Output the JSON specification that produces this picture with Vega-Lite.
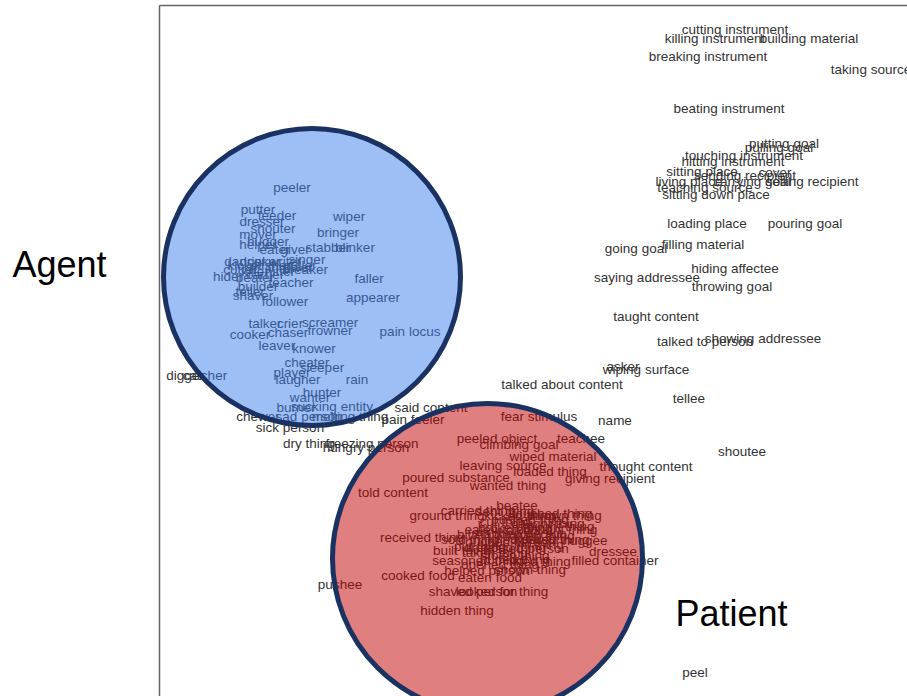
{
  "$schema": "https://vega.github.io/schema/vega-lite/v6.json",
  "width": 748,
  "height": 691,
  "autosize": "none",
  "padding": {"left": 159, "top": 5, "right": 0, "bottom": 0},
  "config": {"view": {"stroke": null}},
  "datasets": {
    "roles": [
      {"t": "cutting instrument", "x": 576, "y": 666},
      {"t": "killing instrument", "x": 556, "y": 657},
      {"t": "building material", "x": 650, "y": 657},
      {"t": "breaking instrument", "x": 549, "y": 639},
      {"t": "taking source", "x": 712, "y": 626},
      {"t": "beating instrument", "x": 570, "y": 587},
      {"t": "putting goal", "x": 625, "y": 552},
      {"t": "pulling goal", "x": 620, "y": 548},
      {"t": "touching instrument", "x": 585, "y": 540},
      {"t": "hitting instrument", "x": 574, "y": 534},
      {"t": "sitting place", "x": 543, "y": 524},
      {"t": "cover", "x": 616, "y": 523},
      {"t": "sending recipient", "x": 586, "y": 520},
      {"t": "living place", "x": 530, "y": 514},
      {"t": "carrying goal", "x": 593, "y": 514},
      {"t": "selling recipient", "x": 653, "y": 514},
      {"t": "teaching source", "x": 546, "y": 508},
      {"t": "sitting down place", "x": 557, "y": 501},
      {"t": "loading place", "x": 548, "y": 472},
      {"t": "pouring goal", "x": 646, "y": 472},
      {"t": "filling material", "x": 544, "y": 451},
      {"t": "going goal", "x": 477, "y": 447},
      {"t": "hiding affectee", "x": 576, "y": 427},
      {"t": "saying addressee", "x": 488, "y": 418},
      {"t": "throwing goal", "x": 573, "y": 409},
      {"t": "taught content", "x": 497, "y": 379},
      {"t": "talked to person", "x": 546, "y": 354},
      {"t": "showing addressee", "x": 604, "y": 357},
      {"t": "asker", "x": 464, "y": 329},
      {"t": "wiping surface", "x": 487, "y": 326},
      {"t": "talked about content", "x": 403, "y": 311},
      {"t": "tellee", "x": 530, "y": 297},
      {"t": "said content", "x": 272, "y": 288},
      {"t": "pain feeler", "x": 254, "y": 276},
      {"t": "fear stimulus", "x": 380, "y": 279},
      {"t": "name", "x": 456, "y": 275},
      {"t": "peeled object", "x": 338, "y": 257},
      {"t": "climbing goal", "x": 360, "y": 251},
      {"t": "teachee", "x": 422, "y": 257},
      {"t": "shoutee", "x": 583, "y": 244},
      {"t": "dry thing", "x": 150, "y": 252},
      {"t": "freezing person", "x": 213, "y": 252},
      {"t": "hungry person", "x": 207, "y": 248},
      {"t": "wiped material", "x": 394, "y": 239},
      {"t": "leaving source", "x": 344, "y": 230},
      {"t": "loaded thing", "x": 391, "y": 224},
      {"t": "thought content", "x": 487, "y": 229},
      {"t": "giving recipient", "x": 451, "y": 217},
      {"t": "poured substance", "x": 297, "y": 218},
      {"t": "wanted thing", "x": 349, "y": 210},
      {"t": "told content", "x": 234, "y": 203},
      {"t": "beatee", "x": 358, "y": 190},
      {"t": "carried thing", "x": 319, "y": 185},
      {"t": "ground thing", "x": 288, "y": 180},
      {"t": "thrown thing", "x": 406, "y": 180},
      {"t": "brought thing", "x": 396, "y": 169},
      {"t": "huggee", "x": 426, "y": 155},
      {"t": "received thing", "x": 263, "y": 158},
      {"t": "built thing", "x": 303, "y": 145},
      {"t": "dressee", "x": 454, "y": 144},
      {"t": "filled container", "x": 456, "y": 135},
      {"t": "seasoned thing", "x": 319, "y": 135},
      {"t": "shown thing", "x": 371, "y": 126},
      {"t": "cooked food", "x": 259, "y": 120},
      {"t": "helped person", "x": 328, "y": 125},
      {"t": "eaten food", "x": 331, "y": 118},
      {"t": "shaved person", "x": 314, "y": 104},
      {"t": "looked for thing", "x": 343, "y": 104},
      {"t": "hidden thing", "x": 298, "y": 85},
      {"t": "pushee", "x": 181, "y": 111},
      {"t": "peel", "x": 536, "y": 23},
      {"t": "kicked thing", "x": 361, "y": 180},
      {"t": "pushed thing", "x": 371, "y": 176},
      {"t": "cut thing", "x": 346, "y": 174},
      {"t": "broken thing", "x": 356, "y": 168},
      {"t": "eaten thing", "x": 339, "y": 166},
      {"t": "stabbed person", "x": 361, "y": 162},
      {"t": "killed person", "x": 366, "y": 156},
      {"t": "hit thing", "x": 381, "y": 151},
      {"t": "dropped thing", "x": 346, "y": 148},
      {"t": "taken thing", "x": 336, "y": 143},
      {"t": "stolen thing", "x": 356, "y": 140},
      {"t": "lifted thing", "x": 381, "y": 134},
      {"t": "opened thing", "x": 341, "y": 131},
      {"t": "put thing", "x": 321, "y": 149},
      {"t": "sent thing", "x": 346, "y": 184},
      {"t": "caught thing", "x": 389, "y": 172},
      {"t": "bought thing", "x": 401, "y": 166},
      {"t": "given thing", "x": 383, "y": 160},
      {"t": "touched thing", "x": 393, "y": 182},
      {"t": "sold thing", "x": 311, "y": 156},
      {"t": "bitten thing", "x": 331, "y": 161},
      {"t": "kissed person", "x": 368, "y": 147},
      {"t": "hugged person", "x": 351, "y": 154},
      {"t": "buried thing", "x": 356, "y": 136},
      {"t": "pulled thing", "x": 396, "y": 156},
      {"t": "peeler", "x": 133, "y": 508},
      {"t": "wiper", "x": 190, "y": 479},
      {"t": "putter", "x": 99, "y": 486},
      {"t": "feeder", "x": 118, "y": 480},
      {"t": "dresser", "x": 103, "y": 474},
      {"t": "shouter", "x": 114, "y": 467},
      {"t": "bringer", "x": 179, "y": 463},
      {"t": "mover", "x": 99, "y": 461},
      {"t": "hugger", "x": 109, "y": 454},
      {"t": "helper", "x": 99, "y": 451},
      {"t": "giver", "x": 136, "y": 446},
      {"t": "stabber", "x": 169, "y": 448},
      {"t": "blinker", "x": 196, "y": 448},
      {"t": "eater", "x": 116, "y": 446},
      {"t": "singer", "x": 148, "y": 436},
      {"t": "drinker", "x": 101, "y": 434},
      {"t": "kicker", "x": 86, "y": 430},
      {"t": "pusher", "x": 111, "y": 430},
      {"t": "thrower", "x": 131, "y": 428},
      {"t": "cutter", "x": 81, "y": 426},
      {"t": "breaker", "x": 146, "y": 426},
      {"t": "killer", "x": 96, "y": 424},
      {"t": "hitter", "x": 121, "y": 424},
      {"t": "puller", "x": 141, "y": 430},
      {"t": "carrier", "x": 106, "y": 421},
      {"t": "dancer", "x": 86, "y": 434},
      {"t": "writer", "x": 126, "y": 434},
      {"t": "hider", "x": 69, "y": 419},
      {"t": "beater", "x": 96, "y": 418},
      {"t": "teacher", "x": 132, "y": 413},
      {"t": "builder", "x": 99, "y": 409},
      {"t": "teller", "x": 91, "y": 404},
      {"t": "shaver", "x": 94, "y": 400},
      {"t": "follower", "x": 126, "y": 394},
      {"t": "faller", "x": 210, "y": 417},
      {"t": "appearer", "x": 214, "y": 398},
      {"t": "talker", "x": 106, "y": 372},
      {"t": "crier", "x": 131, "y": 372},
      {"t": "screamer", "x": 171, "y": 373},
      {"t": "frowner", "x": 171, "y": 365},
      {"t": "cooker", "x": 91, "y": 361},
      {"t": "chaser", "x": 129, "y": 363},
      {"t": "pain locus", "x": 251, "y": 364},
      {"t": "leaver", "x": 118, "y": 350},
      {"t": "knower", "x": 155, "y": 347},
      {"t": "cheater", "x": 148, "y": 333},
      {"t": "sleeper", "x": 163, "y": 328},
      {"t": "player", "x": 133, "y": 323},
      {"t": "laugher", "x": 139, "y": 316},
      {"t": "rain", "x": 198, "y": 316},
      {"t": "digger", "x": 26, "y": 320},
      {"t": "catcher", "x": 46, "y": 320},
      {"t": "hunter", "x": 163, "y": 303},
      {"t": "wanter", "x": 151, "y": 298},
      {"t": "burner", "x": 137, "y": 288},
      {"t": "sucking entity", "x": 173, "y": 289},
      {"t": "sad person", "x": 150, "y": 279},
      {"t": "melting thing", "x": 191, "y": 279},
      {"t": "chewer", "x": 99, "y": 279},
      {"t": "sick person", "x": 131, "y": 268}
    ]
  },
  "encoding": {
    "x": {"field": "x", "type": "quantitative", "scale": {"domain": [0, 748], "nice": false, "zero": false}, "axis": {"orient": "top", "labels": false, "ticks": false, "grid": false, "title": null, "domainColor": "#666666", "domainWidth": 1.5}},
    "y": {"field": "y", "type": "quantitative", "scale": {"domain": [0, 691], "nice": false, "zero": false}, "axis": {"labels": false, "ticks": false, "grid": false, "title": null, "domainColor": "#666666", "domainWidth": 1.5}}
  },
  "layer": [
    {
      "data": {"name": "roles"},
      "mark": {"type": "text", "font": "Liberation Sans", "fontSize": 13.5, "color": "#333333", "align": "center", "baseline": "middle"},
      "encoding": {"text": {"field": "t", "type": "nominal"}}
    },
    {
      "data": {"values": [{"x": 153, "y": 419}]},
      "mark": {"type": "point", "shape": "circle", "size": 88209, "filled": true, "fill": "#3d7ded", "fillOpacity": 0.5, "stroke": "#1a3262", "strokeWidth": 5, "strokeOpacity": 1, "opacity": 1}
    },
    {
      "data": {"values": [{"x": 328.5, "y": 137.5}]},
      "mark": {"type": "point", "shape": "circle", "size": 96100, "filled": true, "fill": "#c00000", "fillOpacity": 0.5, "stroke": "#1a3262", "strokeWidth": 5, "strokeOpacity": 1, "opacity": 1}
    },
    {
      "data": {"values": [{"t": "Agent", "x": -99.5, "y": 419}, {"t": "Patient", "x": 572.5, "y": 70}]},
      "mark": {"type": "text", "font": "Liberation Sans", "fontSize": 36, "color": "#000000", "align": "center", "baseline": "alphabetic"},
      "encoding": {"text": {"field": "t", "type": "nominal"}}
    }
  ]
}
